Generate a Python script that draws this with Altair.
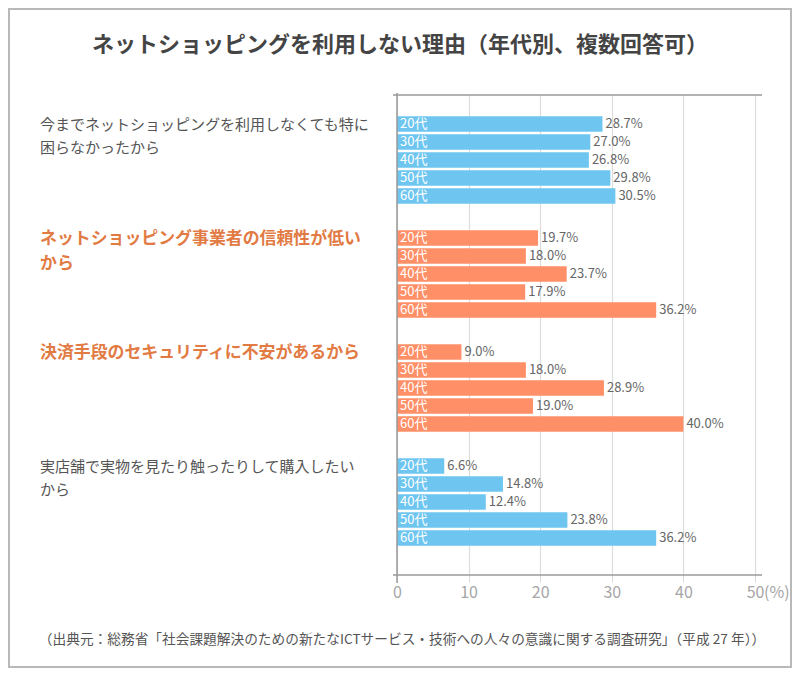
import altair as alt
import pandas as pd

title_text = "ネットショッピングを利用しない理由（年代別、複数回答可）"
source_text = "（出典元：総務省「社会課題解決のための新たなICTサービス・技術への人々の意識に関する調査研究」（平成 27 年））"

reason_line1 = [
    "今までネットショッピングを利用しなくても特に",
    "ネットショッピング事業者の信頼性が低い",
    "決済手段のセキュリティに不安があるから",
    "実店舗で実物を見たり触ったりして購入したい",
]
reason_line2 = ["困らなかったから", "から", "", "から"]
highlight = [False, True, True, False]

ages = ["20代", "30代", "40代", "50代", "60代"]
values = [
    [28.7, 27.0, 26.8, 29.8, 30.5],
    [19.7, 18.0, 23.7, 17.9, 36.2],
    [9.0, 18.0, 28.9, 19.0, 40.0],
    [6.6, 14.8, 12.4, 23.8, 36.2],
]
x_ticks = [0, 5, 10, 15, 20, 25, 30, 35, 40, 45, 50]

GROUP_STEP = 6.333
BLUE = "#6ec6f0"
ORANGE = "#ff8f66"
ORANGE_TEXT = "#e27a43"
GRAY_TEXT = "#555555"
FONT = "Noto Sans CJK JP"

rows = []
for g, vals in enumerate(values):
    for i, v in enumerate(vals):
        rows.append({
            "pos": g * GROUP_STEP + i,
            "age": ages[i],
            "value": v,
            "label": f"{v:.1f}%",
            "color": ORANGE if highlight[g] else BLUE,
        })
bars_df = pd.DataFrame(rows)

cat_df = pd.DataFrame({
    "pos": [g * GROUP_STEP for g in range(len(reason_line1))],
    "line1": reason_line1,
    "line2": reason_line2,
    "hl": highlight,
})

ydom = [-1.611, 25.056]
yscale = alt.Scale(domain=ydom, reverse=True, nice=False, zero=False, padding=0)
xscale = alt.Scale(domain=[0, 50], nice=False, padding=0)

base = alt.Chart(bars_df)

bars = base.mark_bar(size=15.5, orient="horizontal").encode(
    x=alt.X("value:Q", scale=xscale,
            axis=alt.Axis(values=x_ticks, title=None, domain=False,
                          labelExpr="datum.value % 10 == 0 ? datum.label : ''",
                          labelColor="#a6a6a6", labelFontSize=16, labelFont=FONT,
                          labelPadding=2, tickColor="#d9d9d9", tickSize=7,
                          gridColor="#dcdcdc", gridWidth=1.2, labelFlush=False)),
    x2=alt.datum(0),
    y=alt.Y("pos:Q", scale=yscale, axis=None),
    color=alt.Color("color:N", scale=None),
)

age_text = base.mark_text(align="left", baseline="middle", dx=3, dy=0.5,
                          fontSize=13, font=FONT, color="white").encode(
    x=alt.value(0),
    y=alt.Y("pos:Q", scale=yscale),
    text="age:N",
)

val_text = base.mark_text(align="left", baseline="middle", dx=3, dy=0.5,
                          fontSize=13, font=FONT, color="#666666").encode(
    x=alt.X("value:Q", scale=xscale),
    y=alt.Y("pos:Q", scale=yscale),
    text="label:N",
)

cat_base = alt.Chart(cat_df)


def cat_layer(field, dy, hl):
    return cat_base.transform_filter(
        alt.datum.hl if hl else ~alt.datum.hl
    ).mark_text(
        align="left", baseline="middle", font=FONT, dy=dy,
        fontSize=16.9 if hl else 15,
        fontWeight="bold" if hl else "normal",
        color=ORANGE_TEXT if hl else GRAY_TEXT,
    ).encode(
        x=alt.value(-357),
        y=alt.Y("pos:Q", scale=yscale),
        text=f"{field}:N",
    )


cats = [cat_layer("line1", 1, False), cat_layer("line2", 24.5, False),
        cat_layer("line1", 1.5, True), cat_layer("line2", 26, True)]

deco = pd.DataFrame({"k": [0]})
dchart = alt.Chart(deco)

top_line = dchart.mark_rule(color="#9a9a9a", strokeWidth=1.5).encode(
    x=alt.value(-4), x2=alt.value(365), y=alt.value(0))
bottom_line = dchart.mark_rule(color="#9a9a9a", strokeWidth=1.5).encode(
    x=alt.value(-4), x2=alt.value(365), y=alt.value(480))
left_line = dchart.mark_rule(color="#9a9a9a", strokeWidth=1.5).encode(
    x=alt.value(0), y=alt.value(-2), y2=alt.value(488))

border = dchart.mark_rect(fill="transparent", stroke="#b8b8b8", strokeWidth=2).encode(
    x=alt.value(-388), x2=alt.value(394), y=alt.value(-86), y2=alt.value(572))

title = dchart.mark_text(align="center", baseline="middle", fontSize=22,
                         fontWeight="bold", font=FONT, color="#444444").encode(
    x=alt.value(3), y=alt.value(-50), text=alt.value(title_text))

footer = dchart.mark_text(align="center", baseline="middle", fontSize=13.7,
                          font=FONT, color="#555555").encode(
    x=alt.value(5), y=alt.value(545), text=alt.value(source_text))

pct = dchart.mark_text(align="left", baseline="middle", fontSize=16,
                       font=FONT, color="#a6a6a6").encode(
    x=alt.value(367), y=alt.value(498), text=alt.value("(%)"))

chart = alt.layer(
    border, bars, top_line, bottom_line, left_line,
    age_text, val_text, *cats, title, footer, pct,
).properties(
    width=358, height=480,
    autosize=alt.AutoSizeParams(type="none"),
    padding={"left": 389, "top": 87, "right": 37, "bottom": 93},
    background="white",
).configure_view(stroke=None)

chart.save("out.html", embed_options={"renderer": "svg", "actions": False})
